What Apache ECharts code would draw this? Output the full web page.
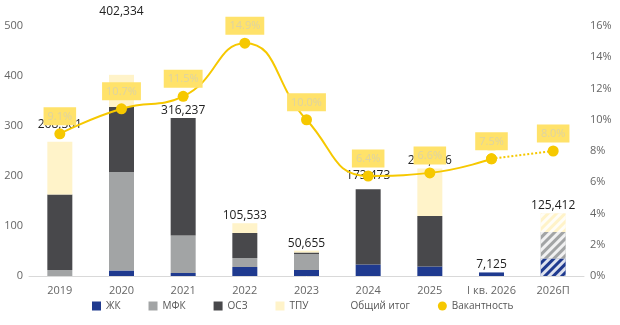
<!DOCTYPE html>
<html><head><meta charset="utf-8">
<script src="https://cdn.jsdelivr.net/npm/echarts@6/dist/echarts.min.js"></script>
<style>html,body{margin:0;padding:0;background:#fff}#c{width:620px;height:325px}</style>
</head><body><div id="c"></div>
<script>
const categories = ['2019','2020','2021','2022','2023','2024','2025','I кв. 2026','2026П'];
const zk   = [0, 11, 6, 18, 12, 23, 19, 7.125, 35];
const mfk  = [12, 197, 75, 18, 32, 0, 0, 0, 53];
const osz  = [151, 130, 235.237, 50, 3, 150.473, 101, 0, 0];
const tpu  = [105.301, 64.334, 0, 19.533, 3.655, 0, 95.116, 0, 37.412];
const totals = [268301, 402334, 316237, 105533, 50655, 173473, 215116, 7125, 125412];
const vacancy = [9.1, 10.7, 11.5, 14.9, 10.0, 6.4, 6.6, 7.5, 8.0];
const leftTicks = {min: 0, max: 500, interval: 100};
const rightTicks = {min: 0, max: 16, interval: 2};

const FONT = '"Open Sans", "Noto Sans", sans-serif';
const colors = {zk: '#1f3a8f', mfk: '#a2a4a5', osz: '#48484b', tpu: '#fff3c9', line: '#f6c800', box: '#ffe26a'};
const forecastIdx = categories.length - 1;
const totalOffsets = {0: [0, -10], 1: [0, -56], 5: [0, -6]};

function barData(arr, col) {
  return arr.map((v, i) => {
    if (i === forecastIdx) {
      return {value: v, itemStyle: {color: col, decal: {symbol: 'rect', symbolSize: 1, dashArrayX: [1, 0], dashArrayY: [3, 3], rotation: -Math.PI / 4, color: 'rgba(255,255,255,0.85)'}}};
    }
    return v;
  });
}
function barSeries(name, arr, col) {
  return {name, type: 'bar', stack: 'a', barWidth: 25, data: barData(arr, col), itemStyle: {color: col}, emphasis: {disabled: true}};
}

const chart = echarts.init(document.getElementById('c'), null, {renderer: 'canvas'});
chart.setOption({
  animation: false,
  textStyle: {fontFamily: FONT},
  grid: {left: 29, right: 36, top: 26, bottom: 49},
  legend: {
    left: 92, top: 301, padding: 0, itemWidth: 9, itemHeight: 9, itemGap: 28,
    textStyle: {color: '#555', fontSize: 10, fontFamily: FONT},
    data: [
      {name: 'ЖК', icon: 'rect'},
      {name: 'МФК', icon: 'rect'},
      {name: 'ОСЗ', icon: 'rect'},
      {name: 'ТПУ', icon: 'rect'},
      {name: 'Общий итог', icon: 'rect', itemStyle: {opacity: 0}},
      {name: 'Вакантность', icon: 'circle'}
    ]
  },
  xAxis: {
    type: 'category', data: categories,
    axisLine: {lineStyle: {color: '#d9d9d9'}},
    axisTick: {show: false},
    axisLabel: {color: '#666', fontSize: 11, margin: 9, fontFamily: FONT, interval: 0}
  },
  yAxis: [
    {type: 'value', min: leftTicks.min, max: leftTicks.max, interval: leftTicks.interval,
     splitLine: {show: false}, axisLine: {show: false}, axisTick: {show: false},
     axisLabel: {color: '#666', fontSize: 11, margin: 6, fontFamily: FONT}},
    {type: 'value', min: rightTicks.min, max: rightTicks.max, interval: rightTicks.interval,
     splitLine: {show: false}, axisLine: {show: false}, axisTick: {show: false},
     axisLabel: {color: '#666', fontSize: 11, margin: 6, formatter: '{value}%', fontFamily: FONT}}
  ],
  series: [
    barSeries('ЖК', zk, colors.zk),
    barSeries('МФК', mfk, colors.mfk),
    barSeries('ОСЗ', osz, colors.osz),
    barSeries('ТПУ', tpu, colors.tpu),
    {
      name: 'Общий итог', type: 'line', symbol: 'circle', symbolSize: 1, showSymbol: true, silent: true,
      lineStyle: {width: 0, opacity: 0}, itemStyle: {color: 'rgba(0,0,0,0)'},
      data: totals.map((v, i) => {
        const d = {value: v / 1000};
        if (totalOffsets[i]) d.label = {offset: totalOffsets[i]};
        return d;
      }),
      label: {show: true, position: 'top', distance: 1, color: '#222', fontSize: 12, fontFamily: FONT,
        formatter: p => totals[p.dataIndex].toLocaleString('en-US')},
      z: 5
    },
    {
      name: 'Вакантность', type: 'line', yAxisIndex: 1, smooth: 0.5,
      data: vacancy.map((v, i) => i < forecastIdx ? v : '-'),
      symbol: 'circle', symbolSize: 11,
      lineStyle: {color: colors.line, width: 2}, itemStyle: {color: colors.line},
      label: {show: true, position: 'top', distance: 3, backgroundColor: colors.box,
        color: '#ddd3a3', fontSize: 11, padding: [4, 4, 3, 4], fontFamily: FONT,
        formatter: p => p.value.toFixed(1) + '%'},
      z: 10
    },
    {
      name: 'Вакантность', type: 'line', yAxisIndex: 1,
      data: vacancy.map((v, i) => i >= forecastIdx - 1 ? v : '-'),
      symbol: 'circle', symbolSize: 11,
      lineStyle: {color: colors.line, width: 2, type: [2, 2]}, itemStyle: {color: colors.line},
      label: {show: true, position: 'top', distance: 3, backgroundColor: colors.box,
        color: '#ddd3a3', fontSize: 11, padding: [4, 4, 3, 4], fontFamily: FONT,
        formatter: p => p.dataIndex === forecastIdx ? p.value.toFixed(1) + '%' : ''},
      z: 9
    }
  ]
});
</script></body></html>
